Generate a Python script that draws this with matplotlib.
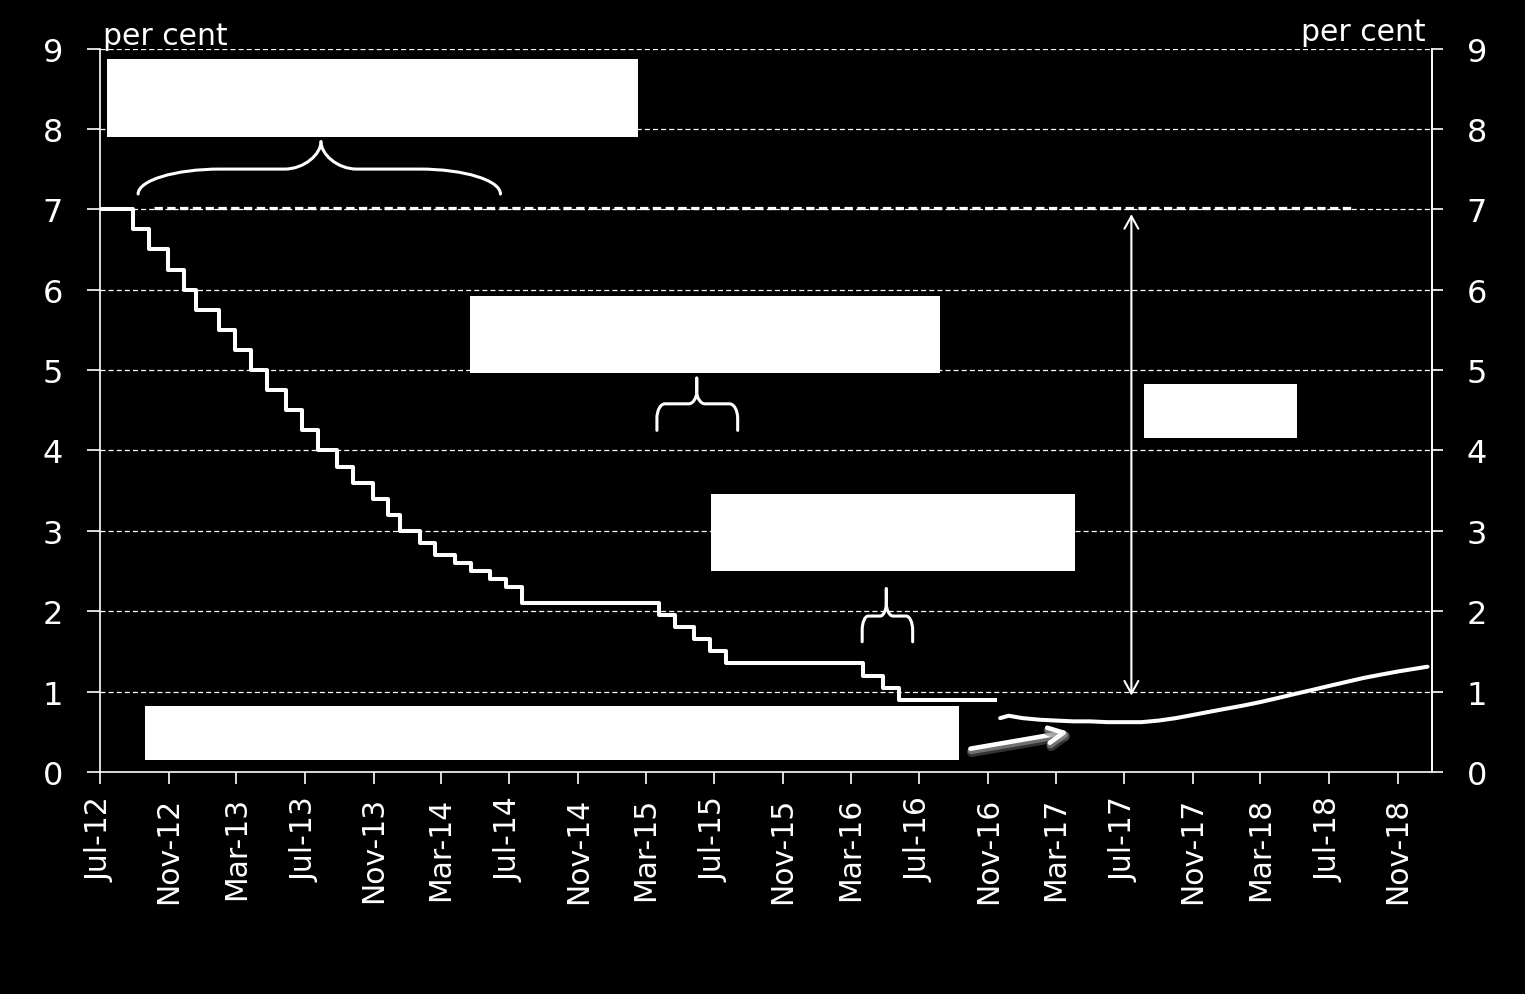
import matplotlib
matplotlib.use('Agg')
import matplotlib.pyplot as plt
import matplotlib.dates as mdates
from matplotlib.path import Path
from matplotlib.patches import PathPatch, Rectangle, FancyArrowPatch
import matplotlib.patheffects as pe
import datetime as dt

plt.rcParams['font.family'] = ['DejaVu Sans']

# ---------------- data ----------------
policy_dates = ['2012-07-01', '2012-08-29', '2012-09-26', '2012-10-31', '2012-11-28',
                '2012-12-19', '2013-01-30', '2013-02-27', '2013-03-27', '2013-04-24',
                '2013-05-29', '2013-06-26', '2013-07-24', '2013-08-28', '2013-09-25',
                '2013-10-30', '2013-11-27', '2013-12-18', '2014-01-22', '2014-02-19',
                '2014-03-26', '2014-04-23', '2014-05-28', '2014-06-25', '2014-07-23',
                '2015-03-25', '2015-04-22', '2015-05-27', '2015-06-24', '2015-07-22',
                '2016-03-23', '2016-04-27', '2016-05-25', '2016-11-17']
policy_rates = [7.00, 6.75, 6.50, 6.25, 6.00,
                5.75, 5.50, 5.25, 5.00, 4.75,
                4.50, 4.25, 4.00, 3.80, 3.60,
                3.40, 3.20, 3.00, 2.85, 2.70,
                2.60, 2.50, 2.40, 2.30, 2.10,
                1.95, 1.80, 1.65, 1.50, 1.35,
                1.20, 1.05, 0.90, 0.90]

forecast_dates = ['2016-11-22', '2016-12-07', '2017-01-01', '2017-02-01', '2017-03-01',
                  '2017-04-01', '2017-05-01', '2017-06-01', '2017-07-01', '2017-08-01',
                  '2017-09-01', '2017-10-01', '2017-11-01', '2017-12-01', '2018-01-01',
                  '2018-02-01', '2018-03-01', '2018-04-01', '2018-05-01', '2018-06-01',
                  '2018-07-01', '2018-08-01', '2018-09-01', '2018-10-01', '2018-11-01',
                  '2018-12-24']
forecast_rates = [0.67, 0.70, 0.67, 0.65, 0.64,
                  0.63, 0.63, 0.62, 0.62, 0.62,
                  0.64, 0.67, 0.71, 0.75, 0.79,
                  0.83, 0.87, 0.92, 0.97, 1.02,
                  1.07, 1.12, 1.17, 1.21, 1.25,
                  1.31]

ref_level = 7.0
ref_start, ref_end = '2012-10-05', '2018-08-09'

tick_dates = ['2012-07-01', '2012-11-01', '2013-03-01', '2013-07-01', '2013-11-01',
              '2014-03-01', '2014-07-01', '2014-11-01', '2015-03-01', '2015-07-01',
              '2015-11-01', '2016-03-01', '2016-07-01', '2016-11-01', '2017-03-01',
              '2017-07-01', '2017-11-01', '2018-03-01', '2018-07-01', '2018-11-01']
y_ticks = [0, 1, 2, 3, 4, 5, 6, 7, 8, 9]

# annotation boxes (blank text boxes): (x0, x1, y0, y1)
boxes = [('2012-07-13', '2015-02-16', 7.90, 8.87),
         ('2014-04-22', '2016-08-07', 4.96, 5.92),
         ('2015-06-26', '2017-04-05', 2.50, 3.46),
         ('2017-08-05', '2018-05-05', 4.15, 4.83),
         ('2012-09-19', '2016-09-10', 0.15, 0.82)]

# braces: x0, x1, tip x, end y, mid y, tip y, cx, cy, tx, ty
braces = [('2012-09-07', '2014-06-15', '2013-07-30', 7.19, 7.50, 7.84, 0.45, 1.0, 0.20, 1.0),
          ('2015-03-21', '2015-08-12', '2015-05-31', 4.25, 4.58, 4.90, 0.20, 0.55, 0.20, 0.45),
          ('2016-03-21', '2016-06-19', '2016-05-03', 1.62, 1.94, 2.28, 0.25, 0.55, 0.25, 0.45)]

D = lambda s: mdates.date2num(dt.datetime.strptime(s, '%Y-%m-%d'))

# ---------------- figure ----------------
W, H = 1525, 995
fig = plt.figure(figsize=(W / 100, H / 100), dpi=100, facecolor='black')
ax = fig.add_axes([100 / W, 1 - 773 / H, (1432 - 100) / W, (773 - 49.5) / H])
ax.set_facecolor('black')

ax.set_xlim(D('2012-07-01'), D('2019-01-01'))
ax.set_ylim(0, 9)

# grid
for y in y_ticks[1:]:
    ax.axhline(y, color='white', lw=0.9, dashes=(4, 2.5), zorder=1)

# spines
ax.spines['top'].set_visible(False)
for s in ['left', 'right', 'bottom']:
    ax.spines[s].set_color('white')
    ax.spines[s].set_linewidth(1.2)

ax.set_xticks([D(d) for d in tick_dates])
ax.set_xticklabels([dt.datetime.strptime(d, '%Y-%m-%d').strftime('%b-%y') for d in tick_dates],
                   rotation=90, fontsize=21.5, color='white')
ax.tick_params(axis='x', direction='out', length=8.5, width=1.2, color='white', pad=9)
ax.set_yticks(y_ticks)
ax.set_yticklabels([str(v) for v in y_ticks], fontsize=23, color='white')
ax.tick_params(axis='y', direction='out', length=9.5, width=1.2, color='white', pad=17)

ax2 = ax.twinx()
ax2.set_ylim(0, 9)
ax2.set_yticks(y_ticks)
ax2.set_yticklabels([str(v) for v in y_ticks], fontsize=23, color='white')
ax2.tick_params(axis='y', direction='out', length=8, width=1.2, color='white', pad=17)
for s in ['top', 'left', 'bottom']:
    ax2.spines[s].set_visible(False)
ax2.spines['right'].set_color('white')
ax2.spines['right'].set_linewidth(1.2)

# 7% reference line
ax.plot([D(ref_start), D(ref_end)], [ref_level + 0.012, ref_level + 0.012], color='white',
        lw=2.3, dashes=(2.6, 1.4), zorder=2, solid_capstyle='butt', dash_capstyle='butt')

# policy rate step line
ax.step([D(d) for d in policy_dates], policy_rates, where='post', color='white', lw=2.9,
        zorder=4, solid_capstyle='butt')

# forecast line
ax.plot([D(d) for d in forecast_dates], forecast_rates, color='white', lw=2.9, zorder=4,
        solid_capstyle='round')

# boxes
for x0, x1, y0, y1 in boxes:
    ax.add_patch(Rectangle((D(x0), y0), D(x1) - D(x0), y1 - y0, facecolor='white',
                           edgecolor='none', zorder=5))

# braces
def brace_half(xe, xt, ye, ym, yt, cx, cy, tx, ty):
    h = xt - xe
    ys = ye + (1 - cy) * (ym - ye)
    yk = ym + ty * (yt - ym)
    verts = [(xe, ye), (xe, ys),
             (xe, ys + 0.55 * (ym - ys)), (xe + 0.45 * cx * h, ym), (xe + cx * h, ym),
             (xt - tx * h, ym),
             (xt - 0.45 * tx * h, ym), (xt, ym + 0.55 * (yk - ym)), (xt, yk),
             (xt, yt)]
    codes = [Path.MOVETO, Path.LINETO,
             Path.CURVE4, Path.CURVE4, Path.CURVE4,
             Path.LINETO,
             Path.CURVE4, Path.CURVE4, Path.CURVE4,
             Path.LINETO]
    return Path(verts, codes)

for x0, x1, xt, ye, ym, yt, cx, cy, tx, ty in braces:
    for xe in (x0, x1):
        p = brace_half(D(xe), D(xt), ye, ym, yt, cx, cy, tx, ty)
        ax.add_patch(PathPatch(p, facecolor='none', edgecolor='white', lw=2.2,
                               capstyle='round', joinstyle='round', zorder=6))

# vertical double arrow
ax.add_patch(FancyArrowPatch((D('2017-07-14'), 0.95), (D('2017-07-14'), 6.94),
                             arrowstyle='<->,head_length=9,head_width=5', mutation_scale=1,
                             color='white', lw=1.5, shrinkA=0, shrinkB=0, zorder=6))

# highlight arrow
arr = FancyArrowPatch((D('2016-09-30'), 0.29), (D('2017-03-24'), 0.50),
                      arrowstyle='->,head_length=11,head_width=5.5', mutation_scale=1,
                      color='white', lw=3.3, shrinkA=0, shrinkB=0, zorder=6,
                      capstyle='round', joinstyle='round')
arr.set_path_effects([pe.SimpleLineShadow(offset=(1, -2.5), shadow_color='#666666', alpha=0.5,
                                          linewidth=7),
                      pe.SimpleLineShadow(offset=(0.5, -1.5), shadow_color='#999999', alpha=0.6,
                                          linewidth=5),
                      pe.Normal()])
ax.add_patch(arr)

# unit labels
fig.text(103 / W, 1 - 45 / H, 'per cent', color='white', fontsize=21.5, ha='left', va='baseline')
fig.text(1426 / W, 1 - 41 / H, 'per cent', color='white', fontsize=21.5, ha='right', va='baseline')

fig.savefig('out.png', dpi=100, facecolor='black')
